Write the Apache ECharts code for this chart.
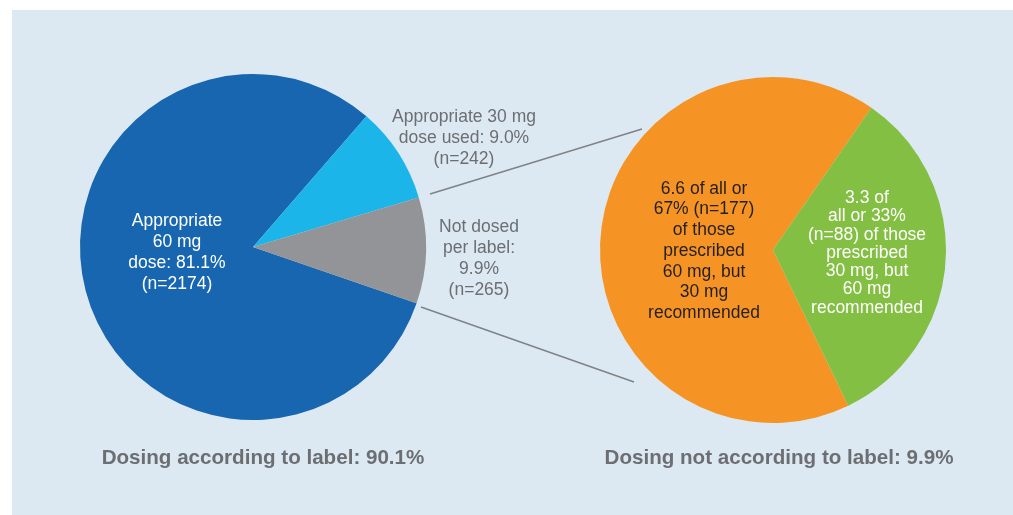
<!DOCTYPE html>
<html>
<head>
<meta charset="utf-8">
<script src="https://cdn.jsdelivr.net/npm/echarts@6/dist/echarts.min.js"></script>
<style>
    html, body { margin: 0; padding: 0; background: #fff; }
    #main { width: 1013px; height: 515px; }
</style>
</head>
<body>
<div id="main"></div>
<script>
// 左边饼图：按说明书给药
const leftNames = ['Appropriate 60 mg dose', 'Appropriate 30 mg dose used', 'Not dosed per label']
const leftPercent = [81.1, 9.0, 9.9]
const leftCounts = [2174, 242, 265]
// 右边饼图：未按说明书给药的拆分
const rightNames = ['Prescribed 60 mg, 30 mg recommended', 'Prescribed 30 mg, 60 mg recommended']
const rightCounts = [177, 88]
const rightOfAll = [6.6, 3.3]
const rightOfGroup = [67, 33]
const titles = ['Dosing according to label: 90.1%', 'Dosing not according to label: 9.9%']

const font = 'Liberation Sans, Arial, sans-serif'
const bg = '#dce9f3'
const greyText = '#6d6e71'

// 标签位置
const labelPos = [
    [[177, 253], [464, 138], [479, 259]],
    [[704, 251], [867, 253]]
]

function leftLabel(i) {
    let p = leftPercent[i].toFixed(1) + '%'
    let n = '(n=' + leftCounts[i] + ')'
    if (i === 0) return 'Appropriate\n60 mg\ndose: ' + p + '\n' + n
    if (i === 1) return 'Appropriate 30 mg\ndose used: ' + p + '\n' + n
    return 'Not dosed\nper label:\n' + p + '\n' + n
}

function rightLabel(i) {
    if (i === 0) return rightOfAll[0] + ' of all or\n' + rightOfGroup[0] + '% (n=' + rightCounts[0] + ')\nof those\nprescribed\n60 mg, but\n30 mg\nrecommended'
    return rightOfAll[1] + ' of\nall or ' + rightOfGroup[1] + '%\n(n=' + rightCounts[1] + ') of those\nprescribed\n30 mg, but\n60 mg\nrecommended'
}

function layoutFor(seriesIndex) {
    return function (params) {
        let pos = labelPos[seriesIndex][params.dataIndex]
        return {
            x: pos[0],
            y: pos[1],
            align: 'center',
            verticalAlign: 'middle',
            hideOverlap: false
        }
    }
}

let chart = echarts.init(document.getElementById('main'))
let option = {
    animation: false,
    title: titles.map((t, i) => ({
        text: t,
        left: i === 0 ? 258 : 774,
        top: 443,
        textAlign: 'center',
        textStyle: {
            color: greyText,
            fontFamily: font,
            fontWeight: 'bold',
            fontSize: 20.6
        }
    })),
    graphic: [
        {
            type: 'rect',
            z: -10,
            shape: { x: 12, y: 10, width: 1001, height: 505 },
            style: { fill: bg }
        },
        {
            type: 'line',
            shape: { x1: 430, y1: 194, x2: 642, y2: 129 },
            style: { stroke: '#808285', lineWidth: 1.5 }
        },
        {
            type: 'line',
            shape: { x1: 421, y1: 307, x2: 634, y2: 382 },
            style: { stroke: '#808285', lineWidth: 1.5 }
        }
    ],
    series: [
        {
            type: 'pie',
            center: [253, 247],
            radius: 173,
            startAngle: -19,
            clockwise: true,
            avoidLabelOverlap: false,
            color: ['#1766af', '#1cb5ea', '#929497'],
            label: {
                position: 'inside',
                fontFamily: font,
                fontSize: 17.5,
                lineHeight: 21,
                align: 'center',
                formatter: p => leftLabel(p.dataIndex)
            },
            labelLine: { show: false },
            labelLayout: layoutFor(0),
            data: leftNames.map((name, i) => ({
                name: name,
                value: leftPercent[i],
                label: { color: i === 0 ? '#fff' : greyText }
            }))
        },
        {
            type: 'pie',
            center: [773, 250],
            radius: 173,
            startAngle: -64.2,
            clockwise: true,
            avoidLabelOverlap: false,
            color: ['#f59425', '#83bf42'],
            label: {
                position: 'inside',
                fontFamily: font,
                fontSize: 17.5,
                align: 'center',
                formatter: p => rightLabel(p.dataIndex)
            },
            labelLine: { show: false },
            labelLayout: layoutFor(1),
            data: rightNames.map((name, i) => ({
                name: name,
                value: rightCounts[i],
                label: {
                    color: i === 0 ? '#231f20' : '#fff',
                    lineHeight: i === 0 ? 20.7 : 18.3
                }
            }))
        }
    ]
}
chart.setOption(option)
</script>
</body>
</html>
